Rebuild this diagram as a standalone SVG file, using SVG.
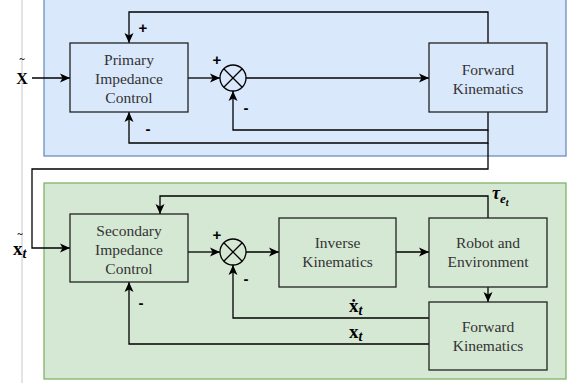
<svg xmlns="http://www.w3.org/2000/svg" width="574" height="383" viewBox="0 0 574 383">
<defs>
<marker id="ah" viewBox="0 0 10 10" refX="10" refY="5" markerWidth="10" markerHeight="10" markerUnits="userSpaceOnUse" orient="auto">
<path d="M0,0.5 L10,5 L0,9.5 L2.5,5 Z" fill="#000"/>
</marker>
<style>
.node{stroke:#222;stroke-width:1.3}
.blue{fill:#dae8fc}
.green{fill:#d5e8d4}
.lbl{font-size:15.5px;fill:#333;text-anchor:middle}
.sign{font-family:'Liberation Sans',Arial,sans-serif;font-size:15px;font-weight:bold;fill:#000;text-anchor:middle}
.math{font-weight:bold;fill:#000}
.wire{fill:none;stroke:#000;stroke-width:1.3}
.arr{fill:none;stroke:#000;stroke-width:1.3;marker-end:url(#ah)}
</style>
</defs>
<line x1="22" y1="0" x2="22" y2="383" stroke="#c8c8c8" stroke-width="1"/>
<g id="primary-container"><rect x="44" y="-2" width="522" height="158" fill="#dae8fc" stroke="#6c8ebf" stroke-width="1.3"/></g>
<g id="secondary-container"><rect x="44" y="183" width="522" height="196" fill="#d5e8d4" stroke="#82b366" stroke-width="1.3"/></g>

<g id="connectors">
<line class="arr" x1="32" y1="78" x2="70" y2="78"/>
<polyline class="arr" points="488,43 488,12 129,12 129,43"/>
<line class="arr" x1="188" y1="78" x2="220" y2="78"/>
<line class="arr" x1="246" y1="78" x2="429" y2="78"/>
<polyline class="arr" points="488,112 488,130 233,130 233,91"/>
<polyline class="arr" points="488,130 488,143 129,143 129,112"/>
<polyline class="arr" points="488,143 488,169 32,169 32,248 70,248"/>
<line class="arr" x1="188" y1="252" x2="220" y2="252"/>
<line class="arr" x1="246" y1="252" x2="279" y2="252"/>
<line class="arr" x1="396" y1="252" x2="429" y2="252"/>
<line class="arr" x1="488" y1="287" x2="488" y2="302"/>
<polyline class="arr" points="488,218 488,196 160,196 160,214"/>
<polyline class="arr" points="429,318 233,318 233,265"/>
<polyline class="arr" points="429,344 129,344 129,282"/>
</g>

<g font-family="Liberation Serif, DejaVu Serif, serif">
<g id="primary-impedance-control">
<rect class="node blue" x="70" y="43" width="118" height="69"/>
<text class="lbl" x="129" y="65">Primary</text>
<text class="lbl" x="129" y="84">Impedance</text>
<text class="lbl" x="129" y="103">Control</text>
</g>
<g id="sum1">
<circle cx="233" cy="78" r="13" fill="#dae8fc" stroke="#000" stroke-width="1.3"/>
<path d="M223.8,68.8 L242.2,87.2 M242.2,68.8 L223.8,87.2" stroke="#000" stroke-width="1.3"/>
</g>
<g id="forward-kinematics-1">
<rect class="node blue" x="429" y="43" width="118" height="69"/>
<text class="lbl" x="488" y="75">Forward</text>
<text class="lbl" x="488" y="94">Kinematics</text>
</g>

<g id="secondary-impedance-control">
<rect class="node green" x="70" y="214" width="118" height="68"/>
<text class="lbl" x="129" y="236">Secondary</text>
<text class="lbl" x="129" y="255">Impedance</text>
<text class="lbl" x="129" y="274">Control</text>
</g>
<g id="sum2">
<circle cx="233" cy="252" r="13" fill="#d5e8d4" stroke="#000" stroke-width="1.3"/>
<path d="M223.8,242.8 L242.2,261.2 M242.2,242.8 L223.8,261.2" stroke="#000" stroke-width="1.3"/>
</g>
<g id="inverse-kinematics">
<rect class="node green" x="279" y="218" width="117" height="69"/>
<text class="lbl" x="337.5" y="248">Inverse</text>
<text class="lbl" x="337.5" y="267">Kinematics</text>
</g>
<g id="robot-and-environment">
<rect class="node green" x="429" y="218" width="118" height="69"/>
<text class="lbl" x="488" y="248">Robot and</text>
<text class="lbl" x="488" y="267">Environment</text>
</g>
<g id="forward-kinematics-2">
<rect class="node green" x="429" y="302" width="118" height="68"/>
<text class="lbl" x="488" y="332">Forward</text>
<text class="lbl" x="488" y="351">Kinematics</text>
</g>

<g id="labels">
<text class="sign" x="143" y="33">+</text>
<text class="sign" x="217" y="65">+</text>
<text class="sign" x="246" y="113">-</text>
<text class="sign" x="148" y="134">-</text>
<text class="sign" x="217" y="240">+</text>
<text class="sign" x="246" y="284">-</text>
<text class="sign" x="141" y="308">-</text>
<text class="math" x="22" y="62" font-size="10" text-anchor="middle" font-weight="normal">~</text>
<text class="math" x="22" y="84" font-size="16" text-anchor="middle">X</text>
<text class="math" x="20" y="237" font-size="10" text-anchor="middle" font-weight="normal">~</text>
<text class="math" x="13" y="255" font-size="19">x<tspan font-style="italic" font-size="14" dy="3">t</tspan></text>
<text class="math" x="349" y="312" font-size="19">ẋ<tspan font-style="italic" font-size="14" dy="3">t</tspan></text>
<text class="math" x="349" y="338" font-size="19">x<tspan font-style="italic" font-size="14" dy="3">t</tspan></text>
<text class="math" x="492" y="199" font-size="18" font-style="italic">τ<tspan font-size="13" dy="4">e</tspan><tspan font-size="10" dy="3">t</tspan></text>
</g>
</g>
</svg>
